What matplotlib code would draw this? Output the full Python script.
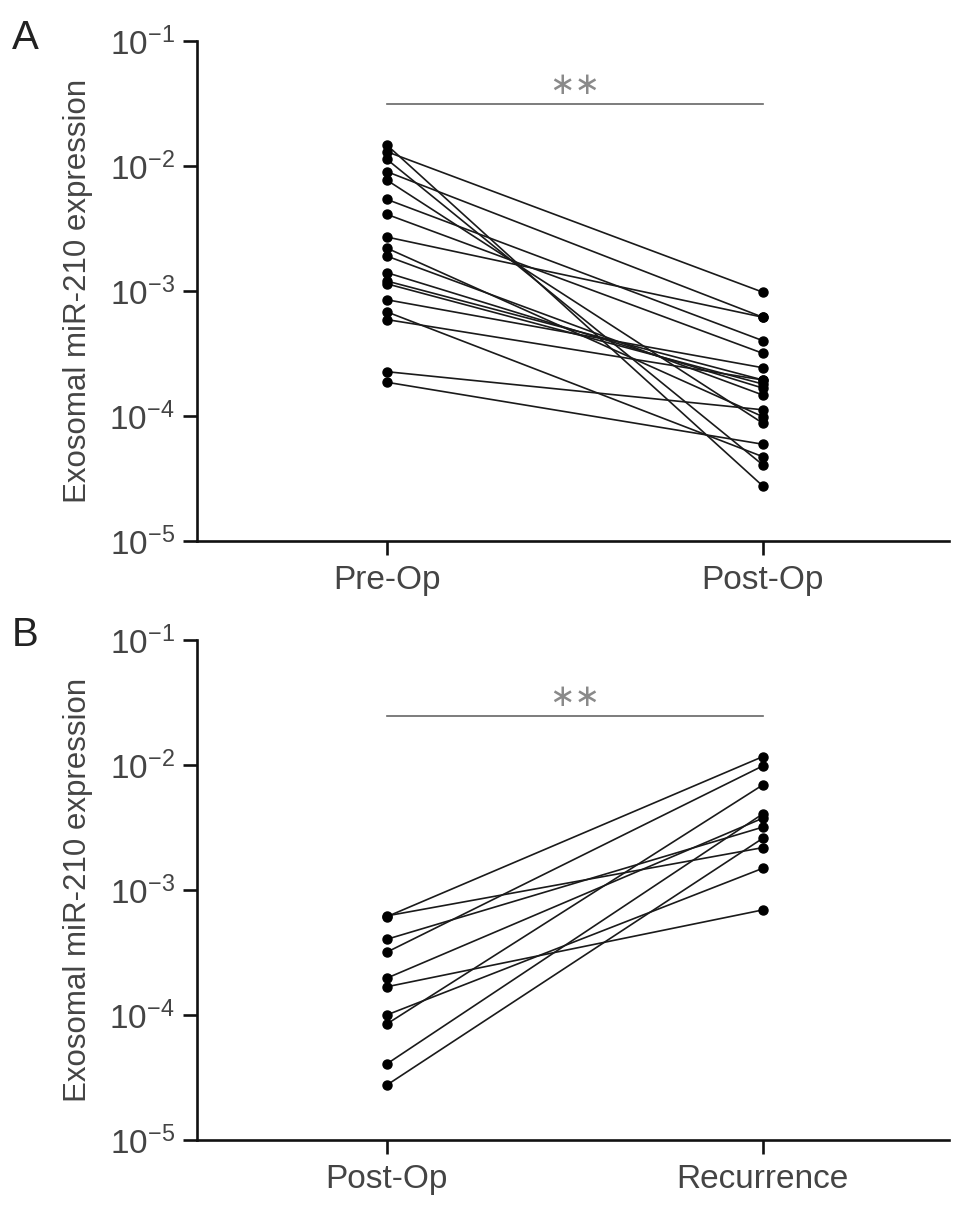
import numpy as np
import matplotlib.pyplot as plt
from matplotlib.ticker import LogLocator, NullLocator, FuncFormatter

plt.rcParams['font.family'] = ['Liberation Sans', 'DejaVu Sans']
plt.rcParams['mathtext.fontset'] = 'custom'
plt.rcParams['mathtext.rm'] = 'Liberation Sans'
plt.rcParams['mathtext.it'] = 'Liberation Sans'

TXT = '#444444'

# panel A: paired samples, Pre-Op -> Post-Op
pre_op = [0.0147, 0.0130, 0.0113, 0.0090, 0.0077, 0.0054, 0.0041, 0.0027, 0.0022,
          0.0019, 0.0014, 0.0012, 0.00114, 0.00085, 0.00068, 0.00059, 0.000226, 0.000186]
post_op = [0.0000275, 0.000977, 0.0000406, 0.000616, 0.0000875, 0.000400, 0.000317, 0.000616, 0.0000987,
           0.000147, 0.000167, 0.000194, 0.000180, 0.000243, 0.0000472, 0.000194, 0.000112, 0.0000594]
labels_a = ['Pre-Op', 'Post-Op']

# panel B: paired samples, Post-Op -> Recurrence
post_op_b = [0.000611, 0.000620, 0.000403, 0.000318, 0.000197, 0.000168,
             0.000100, 0.0000847, 0.0000406, 0.0000275]
recur = [0.01165, 0.00218, 0.00318, 0.00982, 0.00375, 0.000692,
         0.00149, 0.00692, 0.00406, 0.00259]
labels_b = ['Post-Op', 'Recurrence']

sig_y = [0.031, 0.0247]


def draw(ax, left, right, labels, sy):
    for a, b in zip(left, right):
        ax.plot([0, 1], [a, b], color='#1a1a1a', lw=1.2, marker='o', ms=6.5,
                mfc='black', mec='black', zorder=3)
    ax.set_yscale('log')
    ax.set_ylim(1e-5, 1e-1)
    ax.set_xlim(-0.505, 1.495)
    ax.yaxis.set_major_locator(LogLocator(base=10, numticks=10))
    ax.yaxis.set_minor_locator(NullLocator())
    ax.yaxis.set_major_formatter(FuncFormatter(
        lambda v, p: '$\\mathregular{10^{\u2212%d}}$' % round(-np.log10(v))))
    ax.set_xticks([0, 1])
    ax.set_xticklabels(labels)
    for s in ['top', 'right']:
        ax.spines[s].set_visible(False)
    for s in ['left', 'bottom']:
        ax.spines[s].set_linewidth(1.9)
        ax.spines[s].set_color('#111111')
    ax.tick_params(axis='both', width=1.9, length=10, color='#111111',
                   labelsize=24, labelcolor=TXT, pad=6)
    ax.tick_params(axis='x', pad=7)
    ax.set_ylabel('Exosomal miR-210 expression', fontsize=22.5, color=TXT, labelpad=12)
    ax.plot([0, 1], [sy, sy], color='#666666', lw=1.2, clip_on=False)
    ax.text(0.5, sy * 1.08, '\u2217\u2217', ha='center', va='bottom', fontsize=22,
            color='#8a8a8a', family='DejaVu Sans')


fig = plt.figure(figsize=(9.69, 12.14), dpi=100)
ax1 = fig.add_axes([0.2033, 0.5544, 0.776, 0.4119])
ax2 = fig.add_axes([0.2033, 0.0610, 0.776, 0.4119])

draw(ax1, pre_op, post_op, labels_a, sig_y[0])
draw(ax2, post_op_b, recur, labels_b, sig_y[1])

fig.text(0.012, 0.96, 'A', fontsize=29, color='#222222')
fig.text(0.012, 0.468, 'B', fontsize=29, color='#222222')

plt.savefig('out.png', dpi=100)
